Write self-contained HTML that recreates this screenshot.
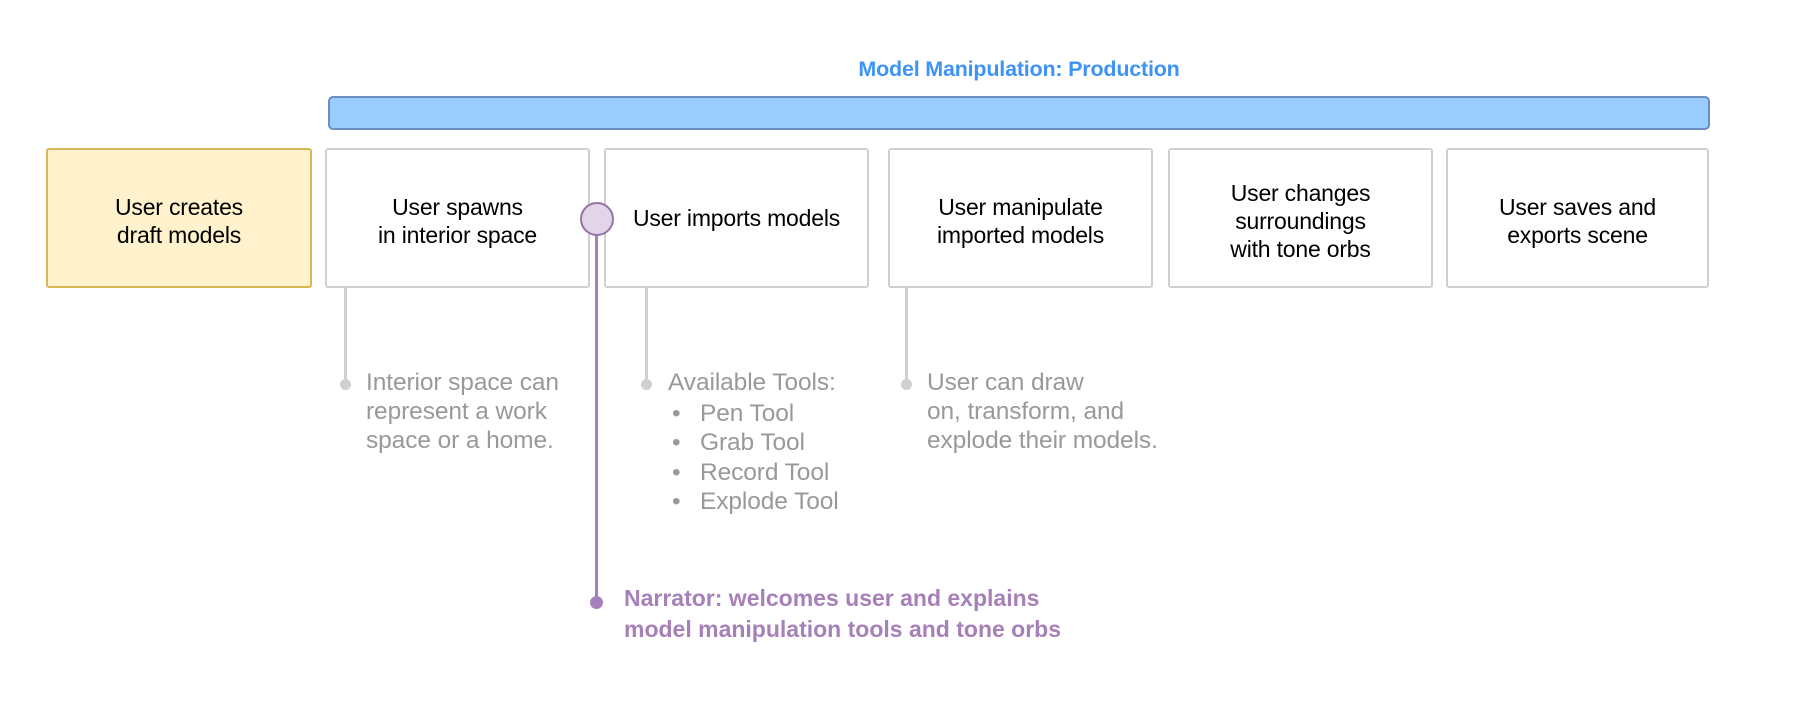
<!DOCTYPE html>
<html><head><meta charset="utf-8"><style>
body{margin:0;width:1801px;height:723px;background:#fff;font-family:"Liberation Sans",sans-serif;position:relative;overflow:hidden}
.a{position:absolute}
.box{position:absolute;top:148px;height:140px;box-sizing:border-box;border:2px solid #d0d0d0;border-radius:3px;background:#fff;display:flex;align-items:center;justify-content:center;text-align:center;font-size:23px;line-height:28px;color:#000;padding-top:5px;letter-spacing:-0.2px}
.g{position:absolute;color:#999;font-size:24.5px;line-height:29px;letter-spacing:-0.1px}
.vl{position:absolute;width:3px;background:#d0d0d0}
.dot{position:absolute;width:11px;height:11px;border-radius:50%;background:#d0d0d0}
</style></head><body>
<div class="a" style="left:0;width:2038px;top:57px;text-align:center;color:#3d94f6;font-size:21.5px;font-weight:bold;letter-spacing:-0.2px">Model Manipulation: Production</div>
<div class="a" style="left:328px;top:96px;width:1382px;height:34px;box-sizing:border-box;background:#99ccff;border:2px solid #6c8ebf;border-radius:5px"></div>
<div class="box" style="left:46px;width:266px;background:#fff2cc;border-color:#d6b656">User creates<br>draft models</div>
<div class="box" style="left:325px;width:265px">User spawns<br>in interior space</div>
<div class="box" style="left:604px;width:265px;padding-top:0">User imports models</div>
<div class="box" style="left:888px;width:265px">User manipulate<br>imported models</div>
<div class="box" style="left:1168px;width:265px">User changes<br>surroundings<br>with tone orbs</div>
<div class="box" style="left:1446px;width:263px">User saves and<br>exports scene</div>

<div class="vl" style="left:344px;top:288px;height:96px"></div><div class="dot" style="left:340px;top:379px"></div>
<div class="vl" style="left:645px;top:288px;height:96px"></div><div class="dot" style="left:641px;top:379px"></div>
<div class="vl" style="left:905px;top:288px;height:96px"></div><div class="dot" style="left:901px;top:379px"></div>

<div class="g" style="left:366px;top:368px">Interior space can<br>represent a work<br>space or a home.</div>
<div class="g" style="left:668px;top:368px">Available Tools:</div>
<div class="g" style="left:672px;top:399px;line-height:29.3px">•<br>•<br>•<br>•</div>
<div class="g" style="left:700px;top:399px;line-height:29.3px">Pen Tool<br>Grab Tool<br>Record Tool<br>Explode Tool</div>
<div class="g" style="left:927px;top:368px">User can draw<br>on, transform, and<br>explode their models.</div>

<div class="a" style="left:595px;top:218px;width:3px;height:384px;background:#a680b8"></div>
<div class="a" style="left:580px;top:202px;width:30px;height:30px;border-radius:50%;background:#e1d5e7;border:2px solid #9673a6"></div>
<div class="a" style="left:590px;top:596px;width:13px;height:13px;border-radius:50%;background:#a680b8"></div>
<div class="a" style="left:624px;top:583px;color:#a680b8;font-size:23px;font-weight:bold;line-height:31px">Narrator: welcomes user and explains<br>model manipulation tools and tone orbs</div>
</body></html>
